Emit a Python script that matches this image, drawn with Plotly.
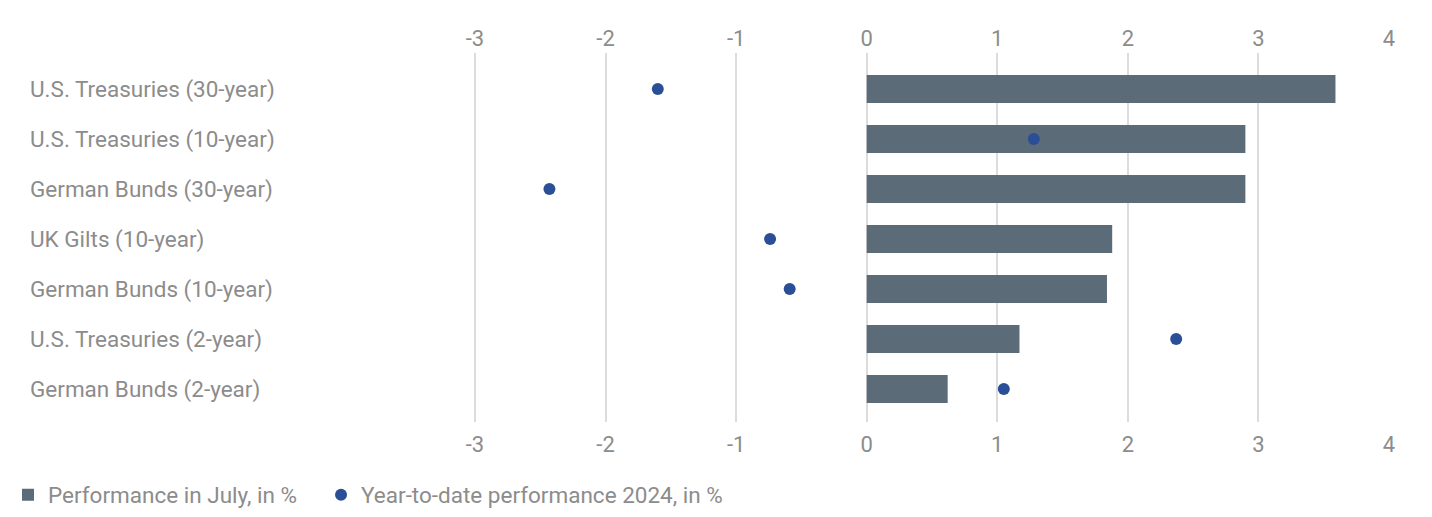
import plotly.graph_objects as go

categories = [
    "U.S. Treasuries (30-year)",
    "U.S. Treasuries (10-year)",
    "German Bunds (30-year)",
    "UK Gilts (10-year)",
    "German Bunds (10-year)",
    "U.S. Treasuries (2-year)",
    "German Bunds (2-year)",
]
july_perf = [3.59, 2.90, 2.90, 1.88, 1.84, 1.17, 0.62]
ytd_perf = [-1.60, 1.28, -2.43, -0.74, -0.59, 2.37, 1.05]
tick_vals = [-3, -2, -1, 0, 1, 2, 3, 4]
tick_text = ["-3", "-2", "-1", "0", "1", "2", "3", "4"]

TXT = "#8c8c8c"
FONT = "Roboto"
xr = [-6.431, 4.0]

fig = go.Figure()
fig.add_trace(go.Bar(
    x=july_perf, y=categories, orientation="h",
    marker=dict(color="#5b6b78", line=dict(width=0)),
    width=0.56, name="Performance in July, in %", legend="legend",
))
fig.add_trace(go.Scatter(
    x=ytd_perf, y=categories, mode="markers", xaxis="x2",
    marker=dict(color="#2b4f96", size=12, symbol="circle"),
    name="Year-to-date performance 2024, in %", legend="legend2",
))

leg_common = dict(orientation="h", xref="container", xanchor="left", y=-0.198, yanchor="middle",
                  font=dict(size=22.5, color=TXT), itemwidth=30, bgcolor="rgba(0,0,0,0)")

fig.update_layout(
    width=1432, height=517,
    margin=dict(l=19, r=51, t=45, b=103, autoexpand=False),
    paper_bgcolor="white", plot_bgcolor="white",
    font=dict(family=FONT, size=22.5, color=TXT),
    showlegend=True,
    legend=dict(x=0.0, **leg_common),
    legend2=dict(x=0.2186, **leg_common),
    bargap=0.44,
    xaxis=dict(range=xr, tickvals=tick_vals, ticktext=tick_text, showgrid=True,
               gridcolor="#dcdcdc", gridwidth=2,
               zeroline=False, showline=False, ticks="outside", ticklen=3, tickcolor="rgba(0,0,0,0)",
               tickfont=dict(size=22, color=TXT), side="bottom"),
    xaxis2=dict(range=xr, tickvals=tick_vals, ticktext=tick_text, overlaying="x", side="top",
                showgrid=False, zeroline=False, showline=False, ticks="", ticklabelstandoff=2,
                tickfont=dict(size=22, color=TXT)),
    yaxis=dict(categoryorder="array", categoryarray=categories, autorange=False,
               range=[6.66, -0.72], showgrid=False, zeroline=False, showline=False,
               ticks="", ticklabelposition="inside", tickfont=dict(size=22.5, color=TXT)),
)

fig.write_html("out.html")
